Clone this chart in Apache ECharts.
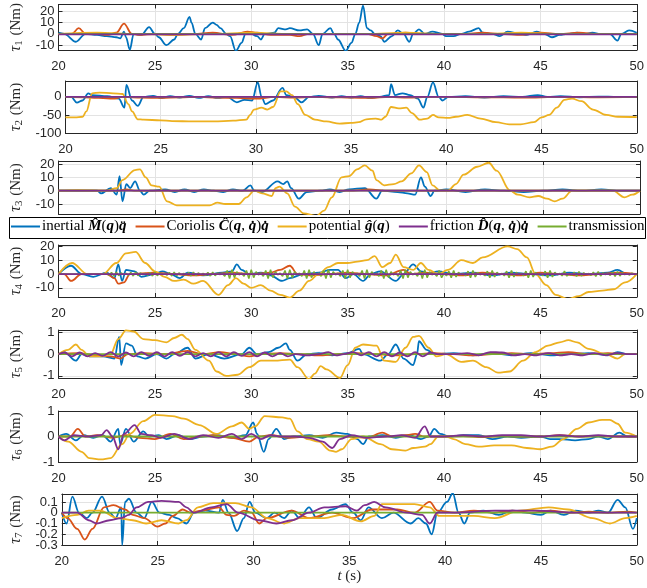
<!DOCTYPE html>
<html><head><meta charset="utf-8">
<script src="https://cdn.jsdelivr.net/npm/echarts@6/dist/echarts.min.js"></script>
<style>html,body{margin:0;padding:0;background:#fff}#c{width:647px;height:588px}</style>
</head><body><div id="c"></div>
<script>
// ---------- DATA ([t, value]) ----------
const tMin = 20, tMax = 50;
const xTicks = [20, 25, 30, 35, 40, 45, 50];

// tau 1
const inertial1 = [[20,1],[20.3,0],[20.9,-7],[21.4,0],[22,-1],[22.5,-2],[23,-3],[23.2,-4],[23.4,2],[23.5,-3],[23.7,-14],[23.9,0],[24.3,-1],[24.7,6],[25,0],[25.2,-3],[25.6,-10],[26,-5],[26.2,0],[26.5,5],[26.8,15],[26.9,10],[27.1,0],[27.4,-5],[27.6,5],[28,10],[28.2,8],[28.4,5],[28.7,0],[28.9,-2],[29.2,-15],[29.5,-8],[29.7,0],[29.9,1],[30.3,-2],[30.5,-5],[30.7,0],[31.2,1],[31.4,5],[31.8,4],[32,5],[32.5,3],[32.9,4],[33.2,0],[33.5,-10],[33.7,0],[34.1,5],[34.3,0],[34.5,-5],[34.9,-15],[35.2,-8],[35.4,0],[35.6,10],[35.8,25],[36,5],[36.2,3],[36.4,0],[36.7,-2],[36.9,-7],[37.3,-2],[37.6,3],[37.9,0],[38.2,-7],[38.4,0],[38.7,4],[39,0],[39.4,2],[39.9,0],[40.1,-2],[40.5,-2],[40.9,0],[41.3,2],[41.8,5],[42,1],[42.5,0],[42.9,-2],[43.3,2],[43.9,0],[44.3,-1],[44.8,2],[45.2,0],[45.6,-3],[46,-1],[46.4,0],[46.9,1],[47.3,0],[47.7,1],[48.1,0],[48.6,0],[49,-6],[49.2,0],[49.6,3],[50,1]];
const coriolis1 = [[20,0],[20.7,0],[21.05,5],[21.4,0],[22,0],[22.5,-1],[23,1],[23.4,9],[23.8,0],[24.2,-1],[25,0],[26,-1],[27,0],[28,1],[29,-1],[29.8,2],[30.3,1],[31,-1],[32,-1],[32.5,-2],[33,0],[34,0],[35,0],[36,0],[36.5,-2],[36.8,-4],[37.1,0],[38,1],[39,0],[40,0],[41,0],[42,1],[43,0],[44,-1],[45,1],[46,0],[47,1],[48,0],[49,0],[50,0]];
const potential1 = [[20,0],[22,1],[24,0],[26,-1],[28,0],[30,1],[32,0],[34,0],[36,0],[38,1],[40,0],[42,0],[44,1],[46,0],[48,0],[50,0]];
const friction1 = [[20,-0.5],[50,-0.5]];
const transmission1 = [[20,0],[50,0]];

// tau 2
const inertial2 = [[20,0],[20.3,0],[20.6,-16],[20.9,-10],[21.2,10],[21.4,5],[22.2,2],[22.8,-5],[23.1,-30],[23.2,33],[23.5,-10],[23.8,-25],[24.1,0],[24.6,3],[25,-3],[25.5,2],[26,-2],[26.5,3],[27,-3],[27.5,2],[28,-3],[28.5,0],[29,-15],[29.4,-8],[29.8,-10],[30.1,40],[30.3,0],[30.5,-20],[30.9,-10],[31.4,25],[31.6,5],[32,0],[32.4,-15],[32.8,0],[33.3,3],[34,-2],[34.5,2],[35,-2],[35.5,2],[36,-3],[36.5,0],[37,5],[37.1,35],[37.3,5],[37.7,10],[38.1,5],[38.5,-5],[38.8,-30],[39.0,0],[39.3,40],[39.6,0],[39.8,-10],[40.1,0],[41,2],[42,-2],[43,2],[44,0],[44.8,5],[45.3,0],[46,2],[47,-1],[48,1],[49,0],[50,0]];
const coriolis2 = [[20,0],[21,-1],[22.5,-5],[23,0],[24,-2],[25,-3],[26,-1],[27,0],[28,-2],[29,-3],[30,-5],[31,0],[32,-2],[33,0],[34,-1],[35,-2],[36,-3],[37,0],[38,-2],[39,0],[40,0],[42,-1],[44,-2],[46,0],[48,-1],[50,0]];
const potential2 = [[20,-57],[20.5,-57],[20.9,-55],[21.1,-40],[21.4,10],[21.8,12],[22.5,10],[23,8],[23.3,-20],[23.5,-40],[23.8,-62],[24.1,-63],[25,-65],[25.6,-67],[26.7,-68],[27.8,-68],[28.8,-66],[29.5,-63],[29.7,-50],[29.9,-35],[30.3,-30],[30.6,-35],[30.9,-28],[31.3,15],[31.6,15],[31.9,5],[32.2,-20],[32.6,-50],[33.1,-63],[33.7,-68],[34.4,-74],[35,-72],[35.4,-70],[35.8,-62],[36.3,-60],[36.6,-63],[36.8,-55],[37.1,-28],[37.5,-32],[37.9,-30],[38.2,-45],[38.6,-63],[39,-60],[39.3,-50],[39.6,-57],[40.1,-58],[40.5,-55],[41.1,-50],[41.8,-60],[42.6,-70],[43.3,-76],[43.9,-76],[44.6,-70],[45,-57],[45.4,-50],[45.8,-30],[46.2,-8],[46.6,-5],[47.1,-12],[47.7,-35],[48.4,-50],[49,-55],[50,-56]];
const friction2 = [[20,0],[50,0]];
const transmission2 = [[20,0],[50,0]];

// tau 3
const inertial3 = [[20,0],[22,0],[22.2,-2],[22.7,2],[23,-3],[23.15,11],[23.3,-8],[23.5,5],[23.7,2],[23.95,7],[24.2,0],[24.4,-3],[24.7,0],[25.5,1],[26,-1],[26.5,1],[27,-1],[27.5,1],[28,0],[28.5,-1],[29,1],[29.5,0],[29.9,4],[30.1,0],[30.5,-1],[31.3,7],[31.6,5],[31.8,7],[32,2],[32.4,-6],[32.8,-1],[33.5,0],[34,1],[34.5,-1],[35,1],[35.8,2],[36.4,-6],[36.7,0],[37.5,-1],[38,-2],[38.4,-3],[38.7,10],[38.9,3],[39.2,-4],[39.4,0],[40,1],[41,-1],[42,1],[43,0],[44,-1],[45,0],[46,1],[47,0],[48,1],[49,0],[50,0]];
const coriolis3 = [[20,0],[23,0],[23.5,1],[24,0],[30,0],[35,0],[36,1],[37,0],[50,0]];
const potential3 = [[20,0],[21,0.5],[22.5,0],[23,2],[23.3,8],[23.95,15.5],[24.2,16],[24.5,10],[24.8,4],[25.2,3],[25.6,-8],[26.1,-11],[27,-11],[27.8,-11],[28.2,-9],[28.6,-10],[29.3,-10],[29.7,-5],[30.1,0],[30.5,-2],[31,-4],[31.2,2],[31.4,3],[31.8,-2],[32.2,-12],[32.65,-17],[33.3,-19],[33.7,-15],[34.1,-5],[34.6,10],[35,11],[35.4,16],[35.8,19],[36.2,15],[36.4,8],[36.8,4],[37.3,5],[37.7,7],[38.2,13],[38.6,19],[39,14],[39.3,4],[39.7,0],[40.1,0],[40.5,5],[40.9,12],[41.6,18],[42.2,21],[42.6,15],[43.3,0],[43.7,-3],[44.3,-5],[44.75,-4],[45.2,-6],[45.6,-8],[46,-6],[46.5,0],[47.8,0],[48.6,0],[49.2,-5],[49.6,-3],[50,0]];
const friction3 = [[20,0],[50,0]];
const transmission3 = [[20,0],[50,0]];

// tau 4
const inertial4 = [[20,0],[20.65,6],[21.2,0],[21.8,-2],[22.5,1],[22.9,-3],[23.1,7],[23.3,-5],[23.5,3],[23.95,2],[24.3,-2],[25,0],[25.4,2],[25.8,0],[26.3,-3],[26.7,1],[27.5,-1],[28.5,1],[29.0,2],[29.25,7],[29.5,3],[29.9,0],[30.5,1],[31.0,-1],[31.6,-5],[32.0,-3],[32.7,0],[33.5,1],[34.1,3],[34.5,3],[34.9,-3],[35.3,0],[35.8,-5],[36.2,0],[36.7,2],[37.5,-5],[37.9,0],[38.4,7],[38.8,2],[39.2,0],[39.7,2],[40.5,0],[41.5,1],[42.5,-1],[43.5,1],[44.5,0],[45.5,-1],[46.5,1],[47.5,0],[48.5,1],[49,3],[49.5,0],[50,0]];
const coriolis4 = [[20,0],[20.3,0],[20.65,-5],[21.2,0],[22.5,0],[22.9,-3],[23.1,-7],[23.4,-6],[23.7,0],[25,1],[26,0],[27,-1],[28,0],[29,1],[30,0],[31,1],[31.5,3],[32,6],[32.4,0],[33,-1],[34,0],[35,1],[36,0],[37,-1],[37.9,3],[38.3,0],[39,1],[40,0],[41,-1],[42,1],[43,0],[44,-1],[45,1],[46,0],[47,-1],[48,0],[49,1],[50,0]];
const potential4 = [[20,0],[20.7,8],[21.5,0],[22.3,0],[23,8],[23.5,15],[24,16],[24.5,8],[25,2],[25.5,-2],[26,-5],[26.5,-4],[27,-7],[27.5,-5],[28.3,-15],[28.8,-8],[29.2,-3],[29.6,-7],[30,-10],[30.5,-8],[31,-12],[31.5,-15],[32,-17],[32.5,-12],[33,-5],[33.5,0],[34,5],[34.5,8],[35,8],[35.5,9],[36,10],[36.4,13],[36.8,5],[37.2,8],[37.5,14],[37.9,5],[38.4,3],[38.8,8],[39.2,3],[39.7,0],[40.2,3],[40.9,10],[41.5,8],[42,12],[43.3,20],[43.8,18],[44.3,12],[44.75,0],[45.3,-8],[45.8,-15],[46.4,-18],[47,-16],[47.5,-13],[48.2,-12],[48.8,-11],[49.4,-6],[50,0]];
const friction4 = [[20,0],[50,0]];
const transmission4Step = 0.125;
const transmission4Vals = [
 0,0,0,0,0,0,0,0,0,0,0,0,0,0,0,0,0,0,0,0,
 0.4,-0.8,1.2,-1.4,1.4,-1.2,0.8,-0.4, 0.4,-0.8,1.2,-1.4,1.4,-1.2,0.8,-0.4, 0.4,-0.8,1.2,-1.4,1.4,-1.2,0.8,-0.4,
 0.4,-0.8,1.2,-1.4,1.4,-1.2,0.8,-0.4, 0.4,-0.8,1.2,-1.4,1.4,-1.2,0.8,-0.4, 0.4,-0.8,1.2,-1.4,1.4,-1.2,0.8,-0.4,
 0.6,-1.6,2.6,-3.2,3.2,-2.6,1.6,-0.6, 0.6,-1.6,2.6,-3.2,3.2,-2.6,1.6,-0.6, 0.6,-1.6,2.6,-3.2,3.2,-2.6,1.6,-0.6,
 0.6,-1.6,2.6,-3.2,3.2,-2.6,1.6,-0.6, 0.6,-1.6,2.6,-3.2,3.2,-2.6,1.6,-0.6, 0.6,-1.6,2.6,-3.2,3.2,-2.6,1.6,-0.6,
 0.6,-1.6,2.6,-3.2,3.2,-2.6,1.6,-0.6, 0.6,-1.6,2.6,-3.2,3.2,-2.6,1.6,-0.6, 0.6,-1.6,2.6,-3.2,3.2,-2.6,1.6,-0.6,
 0.6,-1.6,2.6,-3.2,3.2,-2.6,1.6,-0.6, 0.6,-1.6,2.6,-3.2,3.2,-2.6,1.6,-0.6, 0.6,-1.6,2.6,-2.6,
 0.5,-1.3,2.1,-2.6,2.6,-2.1,1.3,-0.5, 0.5,-1.3,2.1,-2.6,2.6,-2.1,1.3,-0.5, 0.5,-1.3,2.1,-2.6,2.6,-2.1,1.3,-0.5,
 0.5,-1.3,2.1,-2.6,2.6,-2.1,1.3,-0.5, 0.5,-1.3,2.1,-2.6,2.6,-2.1,1.3,-0.5, 0.5,-1.3,2.1,-2.6,2.6,-2.1,1.3,-0.5, 0.5,-1.3,2.1,-1.5,
 0.4,-0.9,1.4,-1.7,1.7,-1.4,0.9,-0.4, 0.4,-0.9,1.4,-1.7,1.7,-1.4,0.9,-0.4, 0.4,-0.9,1.4,-1.7,1.7,-1.4,0.9,-0.4,
 0.3,-0.7,0.7,-0.3,0];

// tau 5
const inertial5 = [[20,0],[20.3,0.1],[20.9,-0.3],[21.2,0],[21.6,-0.1],[22.3,-0.1],[22.9,-0.2],[23.15,0.8],[23.25,-0.5],[23.5,0.5],[23.8,0.4],[24.1,-0.1],[24.5,-0.2],[25.1,0],[25.6,-0.2],[26,0],[26.7,0.3],[27.1,-0.2],[27.8,0],[28.6,-0.2],[29.5,0],[29.9,0.3],[30.3,0],[30.9,0.1],[31.4,0.3],[31.8,0.5],[32,0.2],[32.4,-0.3],[32.9,0],[33.5,0.05],[34.2,-0.05],[35,0.05],[35.6,0.25],[35.8,0],[36.7,-0.3],[37.1,0],[37.5,0.45],[37.9,-0.2],[38.4,-0.5],[38.6,0],[38.7,0.6],[39.1,0.2],[39.5,0],[40.5,0.05],[41.5,-0.05],[42.5,0.05],[43.5,-0.05],[44.5,0.05],[45.5,-0.05],[46.5,0],[47.5,0.05],[48.5,-0.05],[49,0.1],[49.5,0],[50,0]];
const coriolis5 = [[20,0],[21,0.05],[22,-0.05],[22.7,-0.1],[23.2,-0.2],[23.6,0],[24.5,0.05],[25.5,0],[26.7,0.15],[27.5,0],[28.4,0.1],[29.2,0],[29.9,-0.1],[30.5,0],[31.5,0.05],[32.5,0],[33.5,-0.05],[34.5,0],[35.5,0.05],[36.5,0],[37.5,-0.05],[38.5,0],[39.5,0.05],[40.5,0],[41.5,-0.05],[42.5,0],[43.5,0.05],[44.5,0],[45.5,0.05],[46.45,0.1],[47.5,0],[48.5,0.05],[49.5,0],[50,0]];
const potential5 = [[20,0],[20.5,0.2],[20.9,0.45],[21.2,0.2],[21.6,-0.1],[22.3,-0.1],[22.7,0],[23.1,0.7],[23.5,1.1],[23.9,1.05],[24.4,0.7],[25,0.65],[25.6,0.55],[26,0.75],[26.4,0.9],[26.7,0.7],[27.1,0.2],[27.8,-0.3],[28.2,-0.8],[28.7,-1.0],[29.3,-0.95],[29.9,-0.6],[30.5,-0.3],[31.2,-0.3],[32,-0.25],[32.4,-0.6],[33,-1.15],[33.3,-0.9],[33.6,-0.55],[33.9,-0.7],[34.6,-1.1],[35,-0.5],[35.4,0.3],[35.8,0.45],[36.5,0.4],[36.9,-0.3],[37.5,-0.35],[38,0.3],[38.4,0.8],[38.7,0.85],[39.2,0.3],[39.6,-0.1],[40.1,0],[40.9,-0.35],[41.5,-0.3],[42.2,-0.6],[42.8,-0.85],[43.4,-0.8],[44.1,-0.3],[44.75,0.1],[45.4,0.4],[46,0.55],[46.45,0.65],[46.9,0.55],[47.5,0.25],[48.4,0],[49,-0.2],[49.4,0],[50,0]];
const friction5 = [[20,0],[20.3,0.08],[20.7,-0.1],[21.1,0.08],[21.5,-0.1],[21.9,0.05],[22.3,-0.08],[22.7,0.1],[23.1,-0.1],[23.5,0.08],[23.9,-0.1],[24.3,0.1],[24.7,-0.08],[25.1,0.1],[25.5,-0.1],[25.9,0.1],[26.3,-0.08],[26.7,0.1],[27.1,-0.1],[27.5,0.05],[27.9,-0.1],[28.3,0.1],[28.7,-0.1],[29.1,0.1],[29.5,-0.08],[29.9,0.1],[30.3,-0.1],[30.7,0.08],[31.1,-0.1],[31.5,0.05],[31.9,-0.1],[32.3,0],[32.9,-0.05],[33.5,0],[34,0.1],[34.4,-0.05],[34.8,0],[35.3,0.1],[35.7,-0.05],[36.1,0.1],[36.5,-0.1],[36.9,0.1],[37.3,-0.1],[37.7,0.08],[38.1,-0.1],[38.5,0.1],[38.9,-0.1],[39.3,0.08],[39.7,0],[40.5,0],[41.2,0.05],[41.8,-0.05],[42.4,0.1],[43,0.08],[43.6,-0.05],[44.2,0],[44.8,-0.05],[45.4,0.05],[46,-0.05],[46.6,0],[47.2,-0.05],[47.8,0.05],[48.4,-0.05],[49,0.05],[49.6,0],[50,0]];
const transmission5 = [[20,0],[50,0]];

// tau 6
const inertial6 = [[20,0],[20.4,0.1],[20.9,-0.15],[21.3,0.05],[21.8,-0.05],[22.3,0.05],[22.7,-0.2],[23.1,0.3],[23.2,-0.3],[23.5,0.3],[23.9,-0.2],[24.4,0.2],[24.7,0],[25.2,0.05],[25.6,-0.1],[26.2,0.05],[26.8,-0.1],[27.5,0],[28.2,0.05],[29,-0.05],[29.7,0.05],[30.1,0.55],[30.3,0.1],[30.65,-0.6],[30.9,-0.1],[31.3,0.3],[31.7,-0.1],[32.2,0],[33,0.05],[33.7,-0.05],[34.4,0.15],[35,0.1],[35.5,-0.1],[35.8,-0.3],[36.1,0],[36.8,0.05],[37.5,-0.05],[38.2,0.05],[38.8,-0.1],[39.2,0],[39.5,0.3],[39.8,0.1],[40.3,0],[41,0.05],[41.8,0.05],[42.5,-0.1],[43.3,0],[44,-0.05],[45,0],[45.5,-0.1],[46,-0.1],[46.8,-0.15],[47.5,-0.1],[48,0],[48.5,-0.1],[49.1,0.15],[49.5,0],[50,0]];
const coriolis6 = [[20,0],[20.6,0],[21,0.3],[21.4,0],[22,0.05],[22.8,-0.05],[23.5,0.05],[24.2,-0.05],[25,-0.1],[25.8,0.1],[26.5,-0.1],[27.3,0],[28,0.05],[29,-0.05],[29.9,-0.2],[30.4,0],[31,0.05],[32,-0.05],[33,0],[34,0.05],[35,0],[36,-0.05],[36.8,0.15],[37.3,0],[38,0.05],[38.5,0.1],[39,0],[40,0],[41,0.02],[42,-0.02],[43,0.02],[44,0],[45,0],[46,0.05],[47,0],[48,0.02],[49,0],[50,0]];
const potential6 = [[20,0],[20.5,-0.2],[21.2,-0.6],[21.6,-0.85],[22.2,-0.9],[22.7,-0.85],[23.3,-0.3],[23.7,0.1],[24.4,0.6],[25,0.85],[25.9,0.8],[26.5,0.7],[27.3,0.45],[28.2,0.1],[29,0.4],[29.5,0.55],[29.9,0.3],[30.2,0.4],[30.7,0.8],[31.6,0.75],[32,0.7],[32.4,0.2],[32.9,-0.1],[33.5,-0.2],[34.1,-0.55],[34.4,-0.6],[34.7,-0.5],[35.2,-0.1],[35.8,0],[36.7,-0.3],[37.3,-0.5],[38,-0.55],[38.4,-0.45],[39,-0.4],[39.3,-0.3],[39.7,0],[40.1,0],[40.5,-0.1],[41.1,-0.3],[41.8,-0.4],[42.6,-0.35],[43.5,-0.35],[44.3,-0.45],[45,-0.5],[45.6,-0.4],[46.2,-0.1],[46.9,0.3],[47.5,0.55],[48.2,0.65],[48.6,0.65],[49,0.5],[49.4,0.15],[50,0]];
const friction6 = [[20,0],[20.3,-0.15],[20.8,0.05],[21.5,0],[22.2,0.05],[22.5,0.25],[22.8,0],[23.1,-0.5],[23.4,0.1],[23.95,0.45],[24.3,0.1],[24.8,0.05],[25.3,-0.05],[26,0.1],[26.8,-0.1],[27.5,0.05],[28.3,-0.05],[29,0.1],[29.5,-0.1],[30,0.1],[30.5,-0.1],[31,0.05],[31.5,0],[32.3,0],[33,-0.05],[33.7,-0.2],[34.2,-0.45],[34.6,-0.1],[35.2,0.05],[36,-0.05],[37,0],[37.8,0.05],[38.5,-0.05],[39,0.4],[39.3,0],[40,0],[41,0.05],[42,0],[43,0.05],[44,0.05],[45,0],[46,0.05],[47,0],[48,0.05],[49,0],[50,0]];
const transmission6 = [[20,0],[50,0]];

// tau 7
const inertial7 = [[20,0],[20.25,-0.1],[20.55,0.15],[20.9,0],[21.3,-0.05],[21.6,0],[22.1,0.15],[22.5,0],[22.8,-0.05],[23.1,0.05],[23.15,-0.3],[23.3,0.1],[23.5,0.13],[23.9,0],[24.3,-0.05],[24.7,0.1],[25.1,0],[25.6,-0.02],[26,-0.05],[26.5,-0.1],[26.9,0],[27.5,0.02],[28.2,0],[28.4,0.12],[28.7,0],[29.15,-0.17],[29.5,-0.05],[29.8,0.1],[30.1,0],[30.7,-0.05],[31.1,0],[31.6,-0.05],[32,0.02],[32.4,-0.05],[32.9,0.05],[33.3,-0.05],[34.1,0.03],[34.8,0.08],[35.2,0],[35.6,-0.07],[36,0.05],[36.7,-0.05],[37.3,0],[38.2,-0.1],[38.6,-0.05],[39,-0.1],[39.3,-0.2],[39.6,0],[40.1,0.1],[40.4,0.18],[40.7,0],[41,-0.1],[41.3,0],[42,0.02],[42.8,-0.02],[43.5,0.02],[44.2,0],[45,-0.02],[45.5,0.02],[46.2,-0.02],[46.8,0.02],[47.5,0],[48,0.02],[48.5,0],[49,0.12],[49.4,0.05],[49.8,-0.15],[50,-0.05]];
const coriolis7 = [[20,0],[20.3,-0.05],[20.8,-0.15],[21.2,-0.25],[21.6,-0.15],[22.2,0.05],[22.7,0.07],[23.3,0.03],[23.7,-0.02],[24.3,-0.05],[25,-0.13],[25.4,-0.1],[25.8,-0.03],[26.3,0.03],[26.7,0],[27.3,0.02],[28.2,0.05],[28.6,-0.02],[29,-0.03],[29.5,0.02],[29.9,0],[30.3,-0.1],[30.7,-0.05],[32,0.02],[32.9,-0.05],[34.1,0],[35.2,-0.05],[36.2,0.03],[37.5,0.03],[38.4,0],[39.2,0.1],[39.6,0.02],[40.5,0],[41.5,0.02],[42.5,0],[43.5,0.02],[44.5,0],[45.5,0.02],[46.5,0],[47.5,0.01],[48.5,0],[49.5,0.01],[50,0]];
const potential7 = [[20,-0.05],[20.8,-0.02],[21.4,0.02],[22,0.02],[22.9,-0.05],[23.7,-0.07],[24.4,-0.1],[25.2,-0.07],[26.1,-0.1],[26.5,-0.07],[27.1,0.05],[27.9,0.09],[29.05,0.09],[29.9,0.05],[30.7,-0.05],[31.6,-0.1],[32.4,-0.05],[33.7,-0.05],[34.6,-0.02],[35.6,-0.08],[36.3,-0.03],[36.7,0.08],[38.4,0.08],[39.2,0.05],[39.7,-0.03],[40.1,-0.03],[41.5,-0.03],[42.6,-0.05],[43.9,0.02],[45.4,0.05],[46.4,0.03],[47.7,-0.05],[48.6,-0.1],[49.4,-0.05],[50,-0.03]];
const friction7 = [[20,0],[20.8,0],[21.4,-0.07],[21.8,-0.1],[22.5,-0.07],[23.1,-0.05],[23.5,-0.02],[23.9,0.05],[24.5,0.1],[25.2,0.11],[26.1,0.1],[26.5,0.05],[26.9,0],[27.8,0.05],[28.6,0.08],[29.2,0],[30.3,-0.07],[31.2,-0.1],[32,-0.07],[32.9,0],[33.7,0.05],[34.8,0.06],[35.4,0.02],[35.8,0.07],[36.3,0.1],[36.9,0.05],[38,0],[38.8,-0.02],[39.2,-0.1],[39.6,0],[40.5,0],[42.6,0.02],[44.7,0.02],[46.8,0],[48,0],[50,0]];
const transmission7 = [[20,0],[50,0]];

// y tick labels per panel
const yTicks = [[-10,0,10,20],[-100,-50,0],[-10,0,10,20],[-10,0,10,20],[-1,0,1],[-1,0,1],[-0.3,-0.2,-0.1,0,0.1]];
const yRange = [[-14.3,26],[-100,44],[-17.5,22.3],[-16.6,21],[-1.1,1.12],[-1,1],[-0.3,0.174]];

// ---------- CHART ----------
const transmission4 = transmission4Vals.map((v,i)=>[tMin + transmission4Step*i, v]);
const seriesNames = ['inertial','Coriolis','potential','friction','transmission'];
const colors = {inertial:'#0072BD',Coriolis:'#D95319',potential:'#EDB120',friction:'#7E2F8E',transmission:'#77AC30'};
const panelData = [
 {inertial:inertial1,Coriolis:coriolis1,potential:potential1,friction:friction1,transmission:transmission1},
 {inertial:inertial2,Coriolis:coriolis2,potential:potential2,friction:friction2,transmission:transmission2},
 {inertial:inertial3,Coriolis:coriolis3,potential:potential3,friction:friction3,transmission:transmission3},
 {inertial:inertial4,Coriolis:coriolis4,potential:potential4,friction:friction4,transmission:transmission4},
 {inertial:inertial5,Coriolis:coriolis5,potential:potential5,friction:friction5,transmission:transmission5},
 {inertial:inertial6,Coriolis:coriolis6,potential:potential6,friction:friction6,transmission:transmission6},
 {inertial:inertial7,Coriolis:coriolis7,potential:potential7,friction:friction7,transmission:transmission7}
];
const layout = [
 {top:1,height:49,xlab:true},
 {top:81,height:52,xlab:true},
 {top:161,height:53,xlab:false},
 {top:245,height:52,xlab:true},
 {top:330,height:48,xlab:true},
 {top:411,height:51,xlab:true},
 {top:494,height:51,xlab:true}
];
const AX = '#262626';
const tickFont = {fontFamily:'Liberation Sans', fontSize:13, color:AX};
const grids=[], xAxes=[], yAxes=[], series=[];
layout.forEach((L,k)=>{
  grids.push({left:56, width:584, top:L.top, height:L.height, containLabel:false});
  xAxes.push({type:'value', gridIndex:k, min:tMin, max:tMax, interval:5, position:'bottom',
    axisLine:{show:true,onZero:false,lineStyle:{color:AX,width:1}},
    axisTick:{show:true,inside:true,length:4,lineStyle:{color:AX}},
    axisLabel:{show:L.xlab, margin:10, ...tickFont, showMinLabel:true, showMaxLabel:true, formatter:v=>String(v)},
    splitLine:{show:true,lineStyle:{color:'#e3e3e3',width:1}},
    name: k===6 ? '{i|t}{r| (s)}' : '', nameLocation:'middle', nameGap:24,
    nameTextStyle:{rich:{i:{fontFamily:'Liberation Serif',fontStyle:'italic',fontSize:15,color:AX},r:{fontFamily:'Liberation Serif',fontSize:15,color:AX}}}
  });
  xAxes.push({type:'value', gridIndex:k, min:tMin, max:tMax, interval:5, position:'top',
    axisLine:{show:true,onZero:false,lineStyle:{color:AX,width:1}},
    axisTick:{show:true,inside:true,length:4,lineStyle:{color:AX}},
    axisLabel:{show:false}, splitLine:{show:false}});
  const yt = yTicks[k];
  const ytA = yt.filter((v,i)=>i%2===0), ytB = yt.filter((v,i)=>i%2===1);
  // main left axis (line, ticks, grid lines, half of the labels, name)
  yAxes.push({type:'value', gridIndex:k, min:yRange[k][0], max:yRange[k][1], position:'left',
    axisLine:{show:true,onZero:false,lineStyle:{color:AX,width:1}},
    axisTick:{show:true,inside:true,length:4,lineStyle:{color:AX},customValues:yt},
    axisLabel:{show:true,margin:4,...tickFont,customValues:ytA,showMinLabel:true,showMaxLabel:true,formatter:v=>String(v)},
    splitLine:{show:true,lineStyle:{color:'#e3e3e3',width:1}},
    name:'{i|τ}{s|'+(k+1)+'}{r| (Nm)}', nameLocation:'middle', nameRotate:90, nameGap:k===1?38:34,
    nameTextStyle:{rich:{
      i:{fontFamily:'Liberation Serif',fontStyle:'italic',fontSize:16,color:AX},
      s:{fontFamily:'Liberation Serif',fontSize:11,color:AX,verticalAlign:'bottom',padding:[6,1,0,0]},
      r:{fontFamily:'Liberation Serif',fontSize:15,color:AX}}}
  });
  // right box side
  yAxes.push({type:'value', gridIndex:k, min:yRange[k][0], max:yRange[k][1], position:'right',
    axisLine:{show:true,onZero:false,lineStyle:{color:AX,width:1}},
    axisTick:{show:true,inside:true,length:4,lineStyle:{color:AX},customValues:yt},
    axisLabel:{show:false}, splitLine:{show:false}});
  // other half of the tick labels (so that ECharts does not cull close labels)
  yAxes.push({type:'value', gridIndex:k, min:yRange[k][0], max:yRange[k][1], position:'left',
    axisLine:{show:false}, axisTick:{show:false}, splitLine:{show:false},
    axisLabel:{show:ytB.length>0,margin:4,...tickFont,customValues:ytB.length?ytB:[0],showMinLabel:true,showMaxLabel:true,formatter:v=>String(v)}});
  ['inertial','Coriolis','potential','transmission','friction'].forEach(n=>{
    const dense = (n==='transmission' && k===3);
    series.push({name:n, type:'line', xAxisIndex:2*k, yAxisIndex:3*k, data:panelData[k][n],
      showSymbol:false, symbol:'none', animation:false,
      smooth: dense ? false : 0.35, smoothMonotone:'x',
      lineStyle:{color:colors[n], width: dense ? 1.5 : 1.8}, itemStyle:{color:colors[n]}});
  });
});

const legendRich = {
  r:{fontFamily:'Liberation Serif',fontSize:15,color:'#000'},
  b:{fontFamily:'Liberation Serif',fontSize:15,fontWeight:'bold',fontStyle:'italic',color:'#000'}
};
const legendText = {
  inertial:'{r|inertial }{b|M\u0302}{r|(}{b|q}{r|)}{b|q\u0308}',
  Coriolis:'{r|Coriolis }{b|C\u0302}{r|(}{b|q}{r|, }{b|q\u0307}{r|)}{b|q\u0307}',
  potential:'{r|potential }{b|g\u0302}{r|(}{b|q}{r|)}',
  friction:'{r|friction }{b|D\u0302}{r|(}{b|q}{r|, }{b|q\u0307}{r|)}{b|q\u0307}',
  transmission:'{r|transmission}'
};

const chart = echarts.init(document.getElementById('c'), null, {renderer:'canvas'});
chart.setOption({
  animation:false,
  backgroundColor:'#fff',
  grid:grids, xAxis:xAxes, yAxis:yAxes, series:series,
  graphic:[{type:'rect', left:9, top:217, shape:{width:636, height:21}, z:0,
    style:{fill:'#fff', stroke:'#000', lineWidth:1}}],
  legend:{data:seriesNames, left:11, top:219, orient:'horizontal', z:10,
    icon:'rect', itemWidth:29, itemHeight:2, itemGap:9,
    padding:0, formatter:n=>legendText[n], textStyle:{rich:legendRich, padding:[0,0,0,-3]},
    selectedMode:false}
});
</script></body></html>
